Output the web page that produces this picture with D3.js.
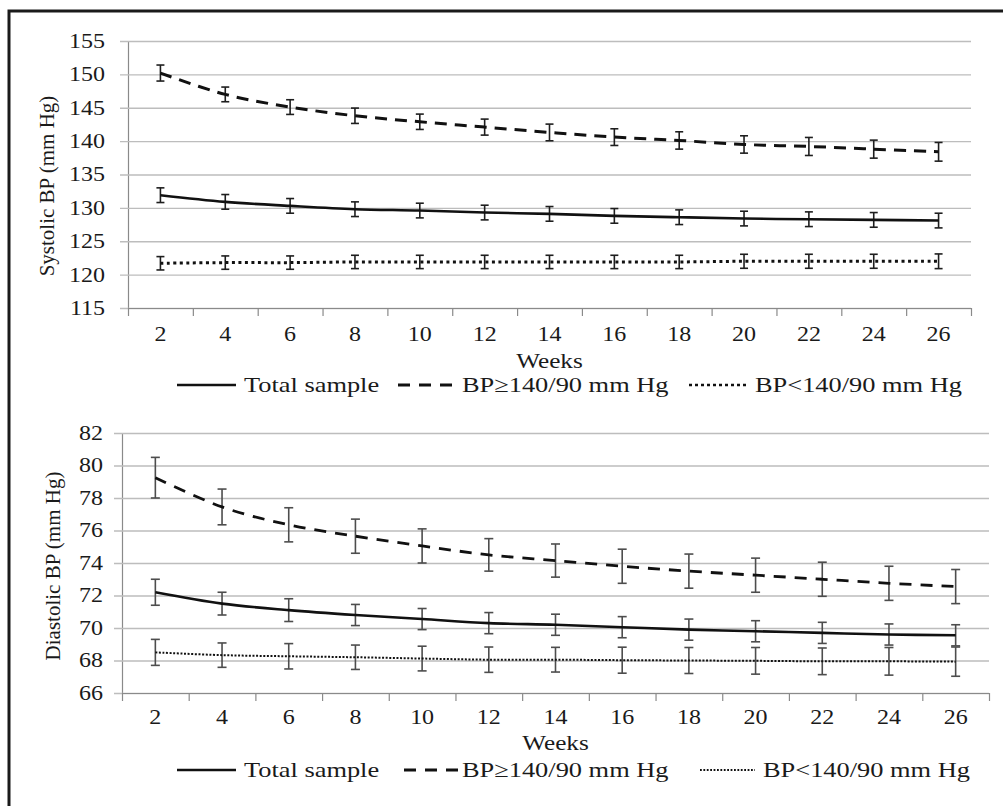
<!DOCTYPE html>
<html>
<head>
<meta charset="utf-8">
<script src="https://cdn.jsdelivr.net/npm/d3@7"></script>
<style>
body{margin:0;background:#fff;}
svg text{font-family:"Liberation Serif","Times New Roman","DejaVu Serif",serif !important;fill:#1a1a1a;}
</style>
</head>
<body>
<svg id="chart" width="1003" height="806" font-family="Liberation Serif, Times New Roman, serif"></svg>
<script>
// data
var weeks = [2,4,6,8,10,12,14,16,18,20,22,24,26];

var sysTotal    = [131.9,130.9,130.3,129.8,129.6,129.3,129.1,128.8,128.6,128.4,128.3,128.2,128.1];
var sysTotalErr = [1.1,1.1,1.1,1.1,1.1,1.1,1.1,1.1,1.1,1.1,1.1,1.1,1.1];
var sysHigh     = [150.2,147.0,145.1,143.8,142.9,142.1,141.3,140.6,140.1,139.5,139.2,138.8,138.4];
var sysHighErr  = [1.2,1.1,1.1,1.15,1.15,1.2,1.25,1.25,1.3,1.3,1.35,1.35,1.4];
var sysLow      = [121.7,121.8,121.8,121.9,121.9,121.9,121.9,121.9,121.9,122.0,122.0,122.0,122.0];
var sysLowErr   = [1.0,1.0,1.0,1.0,1.0,1.0,1.0,1.0,1.0,1.05,1.05,1.05,1.1];

var diaTotal    = [72.2,71.5,71.1,70.8,70.55,70.3,70.2,70.05,69.9,69.8,69.7,69.6,69.55];
var diaTotalErr = [0.8,0.7,0.7,0.65,0.65,0.65,0.65,0.65,0.65,0.65,0.65,0.65,0.65];
var diaHigh     = [79.25,77.45,76.35,75.65,75.05,74.5,74.15,73.8,73.5,73.25,73.0,72.75,72.55];
var diaHighErr  = [1.25,1.1,1.05,1.05,1.05,1.0,1.02,1.05,1.05,1.05,1.05,1.05,1.05];
var diaLow      = [68.5,68.33,68.26,68.2,68.12,68.05,68.05,68.02,68.0,67.98,67.95,67.95,67.93];
var diaLowErr   = [0.8,0.75,0.78,0.75,0.76,0.78,0.76,0.8,0.8,0.82,0.82,0.85,0.9];

var sysTicks = [115,120,125,130,135,140,145,150,155];
var diaTicks = [66,68,70,72,74,76,78,80,82];

var legendLabels = ["Total sample","BP\u2265140/90  mm Hg","BP<140/90 mm Hg"];

var SX = 1.2; // the figure is a bit wide, text looks stretched
var FONT = '"Liberation Serif","Times New Roman",serif';

var svg = d3.select('#chart');

svg.append('rect')
    .attr('x',9).attr('y',11)
    .attr('width',1010).attr('height',810)
    .attr('fill','none')
    .attr('stroke','#1a1a1a')
    .attr('stroke-width',3);

function stretch(sel){
    sel.each(function(){
        var t=d3.select(this);
        var x=+t.attr('x')||0, y=+t.attr('y')||0;
        t.attr('x',0).attr('y',0)
         .attr('transform',`translate(${x},${y}) scale(${SX},1)`);
    });
}

function panel(o){
    var g = svg.append('g').attr('transform',`translate(${o.left},${o.top})`);
    var w = o.width, h = o.height;

    var y = d3.scaleLinear().domain(o.domain).range([h,0]);
    var xb = d3.scaleBand().domain(weeks).range([0,w]);
    var xl = d3.scaleLinear().domain([0,weeks.length]).range([0,w]);

    // y axis + gridlines
    var ya = g.append('g')
        .call(d3.axisLeft(y).tickValues(o.ticks).tickSize(-w).tickSizeOuter(0).tickPadding(o.yPad));
    ya.attr('font-family',FONT);
    ya.select('.domain').attr('stroke','#8a8a8a').attr('stroke-width',1.2);
    ya.selectAll('.tick line').attr('x1',-8).attr('x2',w).attr('stroke','#bdbdbd').attr('stroke-width',1.3);
    ya.selectAll('.tick text').attr('font-size',20).attr('fill','#1a1a1a').call(stretch);

    // x axis: boundary ticks
    var xa = g.append('g').attr('transform',`translate(0,${h})`)
        .call(d3.axisBottom(xl).tickValues(d3.range(weeks.length+1)).tickFormat('').tickSize(8).tickSizeOuter(0));
    xa.select('.domain').attr('stroke','#8a8a8a').attr('stroke-width',1.2);
    xa.selectAll('.tick line').attr('stroke','#8a8a8a').attr('stroke-width',1.2);

    // x axis: labels at centres
    var xt = g.append('g').attr('transform',`translate(0,${h})`)
        .call(d3.axisBottom(xb).tickSize(0).tickPadding(o.xPad));
    xt.attr('font-family',FONT);
    xt.select('.domain').remove();
    xt.selectAll('.tick text').attr('font-size',20).attr('fill','#1a1a1a').call(stretch);

    // axis titles
    g.append('text')
        .attr('x',w/2).attr('y',h+o.weeksY)
        .attr('text-anchor','middle')
        .attr('font-family',FONT)
        .attr('font-size',21)
        .text('Weeks').call(stretch);

    g.append('text')
        .attr('transform',`translate(${o.titleX},${o.titleY}) rotate(-90)`)
        .attr('text-anchor','middle')
        .attr('dy','0.32em')
        .attr('font-family',FONT)
        .attr('font-size',21)
        .text(o.title);

    var cx = d => xb(d) + xb.bandwidth()/2;

    o.series.forEach(function(s){
        var pts = weeks.map((wk,i)=>({wk:wk, v:s.values[i], e:s.err[i]}));

        var eb = g.append('g');
        eb.selectAll('line.v').data(pts).enter().append('line')
            .attr('x1',d=>cx(d.wk)).attr('x2',d=>cx(d.wk))
            .attr('y1',d=>y(d.v+d.e)).attr('y2',d=>y(d.v-d.e))
            .attr('stroke',o.errColor).attr('stroke-width',1.6);
        [1,-1].forEach(function(sg){
            eb.selectAll('line.c'+sg).data(pts).enter().append('line')
                .attr('x1',d=>cx(d.wk)-o.cap).attr('x2',d=>cx(d.wk)+o.cap)
                .attr('y1',d=>y(d.v+sg*d.e)).attr('y2',d=>y(d.v+sg*d.e))
                .attr('stroke',o.errColor).attr('stroke-width',1.6);
        });

        var line = d3.line().x(d=>cx(d.wk)).y(d=>y(d.v)).curve(d3.curveCatmullRom);
        g.append('path').datum(pts)
            .attr('d',line)
            .attr('fill','none')
            .attr('stroke','#111')
            .attr('stroke-width',s.width)
            .attr('stroke-dasharray',s.dash);
    });

    // legend
    var lg = svg.append('g').attr('transform',`translate(0,${o.legendY})`);
    o.legend.forEach(function(it,i){
        var s = o.series[i];
        lg.append('line')
            .attr('x1',it.x1).attr('x2',it.x2)
            .attr('y1',-7).attr('y2',-7)
            .attr('stroke','#111')
            .attr('stroke-width',s.legendWidth||s.width)
            .attr('stroke-dasharray',s.legendDash||s.dash);
        lg.append('text')
            .attr('x',it.tx).attr('y',0)
            .attr('font-family',FONT)
            .attr('font-size',22)
            .text(legendLabels[i]).call(stretch);
    });
}

panel({
    left:128, top:41, width:843, height:267,
    domain:[115,155], ticks:sysTicks, yPad:23, xPad:19,
    weeksY:60, titleX:-81, titleY:145,
    title:'Systolic BP  (mm Hg)',
    errColor:'#1e1e1e', cap:4,
    series:[
        {values:sysTotal, err:sysTotalErr, width:2.6, dash:null},
        {values:sysHigh, err:sysHighErr, width:3, dash:'12,8', legendDash:'12,9'},
        {values:sysLow, err:sysLowErr, width:3, dash:'3,3.5', legendWidth:2.5, legendDash:'3,3'}
    ],
    legendY:392,
    legend:[{x1:177,x2:236,tx:244},{x1:398,x2:457,tx:462},{x1:689,x2:748,tx:755}]
});

panel({
    left:122, top:433, width:867, height:260,
    domain:[66,82], ticks:diaTicks, yPad:19, xPad:17,
    weeksY:57, titleX:-69, titleY:133,
    title:'Diastolic BP (mm Hg)',
    errColor:'#4d4d4d', cap:4.5,
    series:[
        {values:diaTotal, err:diaTotalErr, width:2.6, dash:null},
        {values:diaHigh, err:diaHighErr, width:2.8, dash:'12,9'},
        {values:diaLow, err:diaLowErr, width:2, dash:'2,1.6', legendDash:'1.8,1.6'}
    ],
    legendY:777,
    legend:[{x1:177,x2:236,tx:244},{x1:404,x2:458,tx:462},{x1:700,x2:755,tx:763}]
});
</script>
</body>
</html>
